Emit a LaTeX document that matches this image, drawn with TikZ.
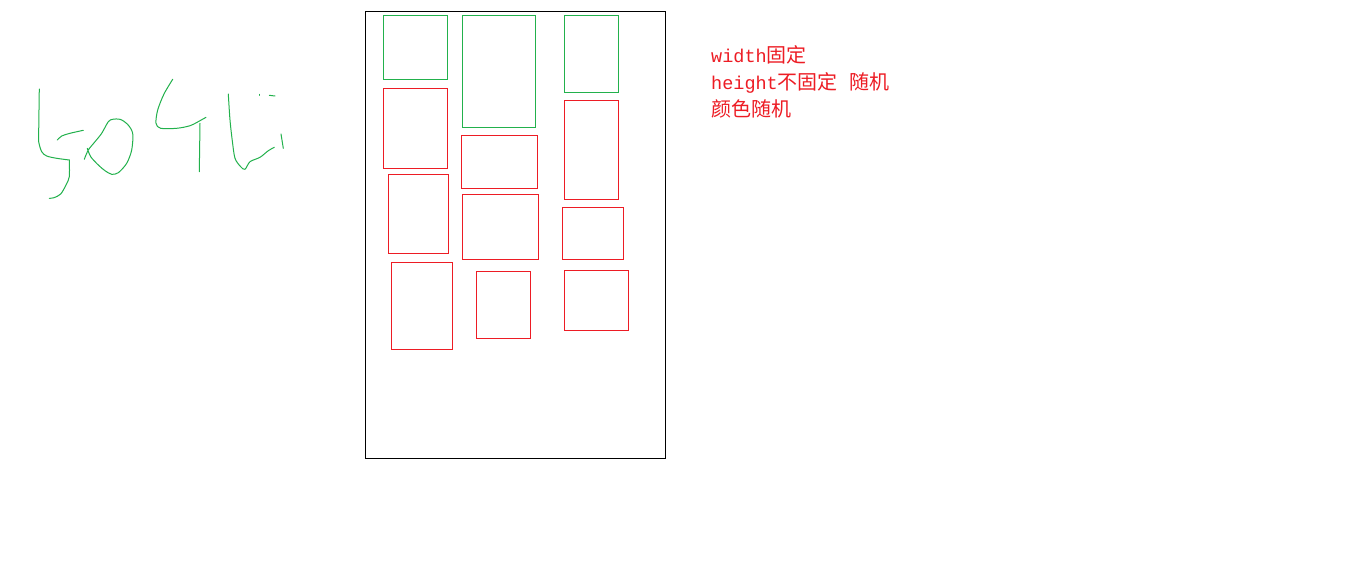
\documentclass[tikz,border=0pt]{standalone}
\usepackage{fontspec}
\newfontfamily\cjkfont{Noto Sans CJK SC}
\newfontfamily\monofont{Liberation Mono}
\definecolor{pgreen}{RGB}{34,177,76}
\definecolor{pred}{RGB}{237,28,36}
\tikzset{
  gbox/.style={draw=pgreen,line width=1pt},
  rbox/.style={draw=pred,line width=1pt},
  frame/.style={draw=black,line width=1pt},
  ink/.style={draw=pgreen,line width=1pt,line cap=round,line join=round},
  note/.style={text=pred,anchor=base west,inner sep=0pt,font=\monofont\fontsize{18.5}{22}\selectfont}
}
\newcommand{\cj}[1]{{\cjkfont\fontsize{20}{22}\selectfont #1}}
\begin{document}
\begin{tikzpicture}[x=1pt,y=-1pt]
\useasboundingbox[fill=white] (0,0) rectangle (1360,573);
% handwriting "5041"
\draw[ink] plot[smooth,tension=0.5] coordinates {(39.3,89) (38.7,131.7) (38.7,141.7) (41.7,151.7) (46.7,156) (56.7,158.3) (69.3,160)};
\draw[ink] plot[smooth,tension=0.5] coordinates {(69.3,160) (69.3,176.7) (66,185) (60.7,194) (54,197.7) (49.3,198.3)};
\draw[ink] plot[smooth,tension=0.5] coordinates {(57.3,140) (61.7,136) (70,133.3) (83.3,130.3)};
\draw[ink] plot[smooth,tension=0.5] coordinates {(84.3,159.3) (88.3,150) (95,141.7) (101.7,133.3) (108.3,121.7) (112.7,119.3) (120,119.3) (127.3,124) (132.7,133.3) (131.7,150) (126.7,163.3) (118.3,172.7) (111.7,174.3) (105,170.7) (98.3,165) (90.7,156.7) (87.3,148.3)};
\draw[ink] plot[smooth,tension=0.5] coordinates {(172.7,79.3) (164,94) (157.7,110) (156,123.3) (160.7,128.3) (176.7,128.3) (190,125.7) (200,120.7) (206,117.3)};
\draw[ink] (200,123.3) -- (199.3,171.7);
\draw[ink] plot[smooth,tension=0.5] coordinates {(228.3,94) (230,120) (232.3,140.7) (235,158.3) (240.7,166.7) (245,169.3) (250,161.7) (260,157.3) (268.3,150.7) (274.3,147.3)};
\draw[ink] (259.3,94.3) -- (259.3,95.3);
\draw[ink] (269.3,95.3) -- (275,96);
\draw[ink] (281,134) -- (283.3,148.3);
% frame
\draw[frame] (365.5,11.5) rectangle (665.5,458.5);
% column 1
\draw[gbox] (383.5,15.5) rectangle (447.5,79.5);
\draw[rbox] (383.5,88.5) rectangle (447.5,168.5);
\draw[rbox] (388.5,174.5) rectangle (448.5,253.5);
\draw[rbox] (391.5,262.5) rectangle (452.5,349.5);
% column 2
\draw[gbox] (462.5,15.5) rectangle (535.5,127.5);
\draw[rbox] (461.5,135.5) rectangle (537.5,188.5);
\draw[rbox] (462.5,194.5) rectangle (538.5,259.5);
\draw[rbox] (476.5,271.5) rectangle (530.5,338.5);
% column 3
\draw[gbox] (564.5,15.5) rectangle (618.5,92.5);
\draw[rbox] (564.5,100.5) rectangle (618.5,199.5);
\draw[rbox] (562.5,207.5) rectangle (623.5,259.5);
\draw[rbox] (564.5,270.5) rectangle (628.5,330.5);
% notes
\node[note] (n1) at (711,62) {width\cj{固定}};
\node[note] (n2) at (711,89) {height\cj{不固定}\hspace{12pt}\cj{随机}};
\node[note] (n3) at (711,116) {\cj{颜色随机}};
\end{tikzpicture}
\end{document}
